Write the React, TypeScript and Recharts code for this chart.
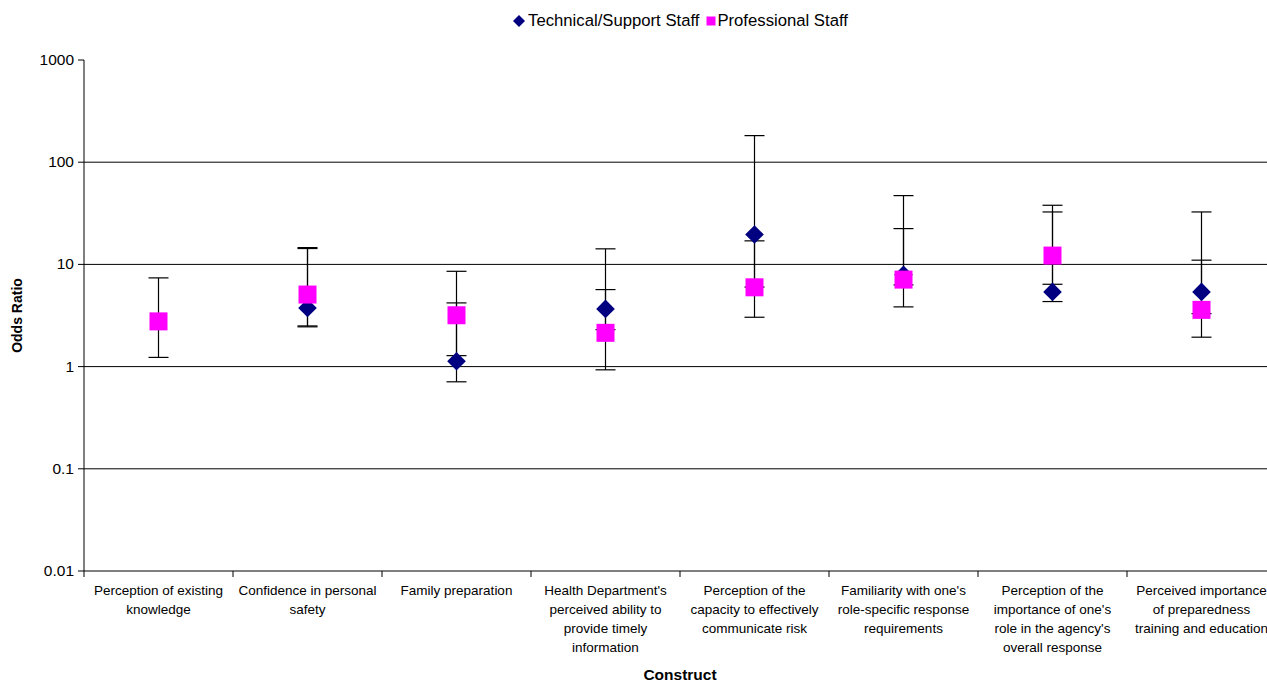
import React from 'react';
import {
  ScatterChart,
  Scatter,
  XAxis,
  YAxis,
  ErrorBar,
  ReferenceLine,
  Legend,
} from 'recharts';

// the chart runs past the right edge of the page, so let the root span the full window
document.body.style.margin = '0';

// construct labels, already broken into lines like the original
const categories = [
  ['Perception of existing', 'knowledge'],
  ['Confidence in personal', 'safety'],
  ['Family preparation'],
  ["Health Department's", 'perceived ability to', 'provide timely', 'information'],
  ['Perception of the', 'capacity to effectively', 'communicate risk'],
  ["Familiarity with one's", 'role-specific response', 'requirements'],
  ['Perception of the', "importance of one's", "role in the agency's", 'overall response'],
  ['Perceived importance', 'of preparedness', 'training and education'],
];

// odds ratios with 95% CI (null = not reported)
const techOR = [null, 3.75, 1.13, 3.67, 19.6, 7.9, 5.38, 5.38];
const techLow = [null, 2.45, 0.71, 2.3, 6.0, 6.3, 4.33, 3.3];
const techHigh = [null, 14.3, 4.2, 5.67, 182, 22.4, 32.6, 32.6];

const profOR = [2.77, 5.07, 3.18, 2.14, 5.97, 7.1, 12.2, 3.59];
const profLow = [1.23, 2.5, 1.28, 0.93, 3.04, 3.84, 6.39, 1.94];
const profHigh = [7.38, 14.6, 8.56, 14.2, 17, 47.1, 37.9, 11.0];

const yTicks = [0.01, 0.1, 1, 10, 100, 1000];
const gridValues = [0.1, 1, 10, 100];

const FONT = 'Arial, "Liberation Sans", sans-serif';
const NAVY = '#000080';
const MAGENTA = '#FF00FF';

const W = 1275;
const H = 675;
const M = { top: 52, right: 7, bottom: 0, left: 0 };
const Y_W = 76;
const X_H = 112;

const toPoints = (or: (number | null)[], lo: (number | null)[], hi: (number | null)[]) =>
  or
    .map((v, i) =>
      v == null
        ? null
        : { x: i + 0.5, y: v, err: [v - (lo[i] as number), (hi[i] as number) - v] }
    )
    .filter(Boolean);

const techData = toPoints(techOR, techLow, techHigh);
const profData = toPoints(profOR, profLow, profHigh);

const xTicks = Array.from({ length: categories.length * 2 + 1 }, (_, i) => i / 2);

const Diamond = (props: any) => {
  const { cx, cy } = props;
  const r = 9.3;
  return (
    <polygon
      points={`${cx},${cy - r} ${cx + r},${cy} ${cx},${cy + r} ${cx - r},${cy}`}
      fill={NAVY}
    />
  );
};

const Square = (props: any) => {
  const { cx, cy } = props;
  const s = 18;
  return <rect x={cx - s / 2} y={cy - s / 2} width={s} height={s} fill={MAGENTA} />;
};

const Nothing = () => <g />;

const XTick = (props: any) => {
  const { x, y, payload } = props;
  const v = payload.value;
  if (Number.isInteger(v)) {
    return <line x1={x} y1={y} x2={x} y2={y + 6} stroke="#000" strokeWidth={1} />;
  }
  const lines = categories[Math.floor(v)] || [];
  return (
    <text x={x} y={y + 24} textAnchor="middle" fontSize={13.5} fontFamily={FONT} fill="#000">
      {lines.map((l, i) => (
        <tspan key={i} x={x} dy={i === 0 ? 0 : 19}>
          {l}
        </tspan>
      ))}
    </text>
  );
};

const YTick = (props: any) => {
  const { x, y, payload } = props;
  return (
    <text
      x={x}
      y={y}
      dy={5}
      textAnchor="end"
      fontSize={15.5}
      fontFamily={FONT}
      fill="#000"
    >
      {String(payload.value)}
    </text>
  );
};

const LegendContent = () => (
  <div
    style={{
      display: 'flex',
      justifyContent: 'center',
      alignItems: 'center',
      fontFamily: FONT,
      fontSize: 16.7,
      color: '#000',
    }}
  >
    <svg width={14} height={14} style={{ marginRight: 2 }}>
      <polygon points="7,1 13,7 7,13 1,7" fill={NAVY} />
    </svg>
    <span style={{ marginRight: 7 }}>Technical/Support Staff</span>
    <svg width={10} height={10} style={{ marginRight: 1 }}>
      <rect x={0.5} y={0.5} width={9} height={9} fill={MAGENTA} />
    </svg>
    <span>Professional Staff</span>
  </div>
);

export default function App() {
  return (
    <div
      style={{
        width: 1267,
        height: 683,
        overflow: 'hidden',
        padding: '8px 0 0 8px',
        boxSizing: 'border-box',
      }}
    >
      <div style={{ position: 'relative', width: W, height: H }}>
        {/* base chart: axes, grid, legend and the confidence intervals */}
        <ScatterChart width={W} height={H} margin={M}>
          <XAxis
            type="number"
            dataKey="x"
            domain={[0, categories.length]}
            ticks={xTicks}
            interval={0}
            tick={<XTick />}
            tickLine={false}
            tickSize={0}
            tickMargin={0}
            axisLine={{ stroke: '#000' }}
            height={X_H}
            label={{
              content: (p: any) => {
                const vb = p.viewBox;
                return (
                  <text
                    x={vb.x + vb.width / 2}
                    y={vb.y + vb.height - 3}
                    textAnchor="middle"
                    fontFamily={FONT}
                    fontWeight="bold"
                    fontSize={15.5}
                    fill="#000"
                  >
                    Construct
                  </text>
                );
              },
            }}
          />
          <YAxis
            type="number"
            dataKey="y"
            scale="log"
            domain={[0.01, 1000]}
            ticks={yTicks}
            interval={0}
            allowDataOverflow
            width={Y_W}
            tickSize={6}
            tickMargin={4}
            tickLine={{ stroke: '#000' }}
            axisLine={{ stroke: '#000' }}
            tick={<YTick />}
            label={{
              content: (p: any) => {
                const vb = p.viewBox;
                const cx = vb.x + 9;
                const cy = vb.y + vb.height / 2;
                return (
                  <text
                    x={cx}
                    y={cy}
                    transform={`rotate(-90 ${cx} ${cy})`}
                    textAnchor="middle"
                    dominantBaseline="central"
                    fontFamily={FONT}
                    fontWeight="bold"
                    fontSize={14}
                    fill="#000"
                  >
                    Odds Ratio
                  </text>
                );
              },
            }}
          />
          {gridValues.map((g) => (
            <ReferenceLine key={g} y={g} stroke="#000" strokeWidth={1} ifOverflow="hidden" />
          ))}
          <Legend
            verticalAlign="middle"
            align="center"
            content={<LegendContent />}
            wrapperStyle={{ top: 3, left: 76, width: 1192 }}
          />
          <Scatter
            name="Technical/Support Staff"
            data={techData}
            shape={<Nothing />}
            isAnimationActive={false}
          >
            <ErrorBar
              dataKey="err"
              direction="y"
              width={10}
              stroke="#000"
              strokeWidth={1.2}
              isAnimationActive={false}
            />
          </Scatter>
          <Scatter
            name="Professional Staff"
            data={profData}
            shape={<Nothing />}
            isAnimationActive={false}
          >
            <ErrorBar
              dataKey="err"
              direction="y"
              width={10}
              stroke="#000"
              strokeWidth={1.2}
              isAnimationActive={false}
            />
          </Scatter>
        </ScatterChart>

        {/* overlay with the same plot area: markers sit above every error bar */}
        <div style={{ position: 'absolute', left: 0, top: 0 }}>
          <ScatterChart
            width={W}
            height={H}
            margin={{ top: M.top, right: M.right, bottom: M.bottom + X_H, left: M.left + Y_W }}
          >
            <XAxis type="number" dataKey="x" domain={[0, categories.length]} hide />
            <YAxis
              type="number"
              dataKey="y"
              scale="log"
              domain={[0.01, 1000]}
              allowDataOverflow
              hide
            />
            <Scatter data={techData} shape={<Diamond />} isAnimationActive={false} />
            <Scatter data={profData} shape={<Square />} isAnimationActive={false} />
          </ScatterChart>
        </div>
      </div>
    </div>
  );
}
